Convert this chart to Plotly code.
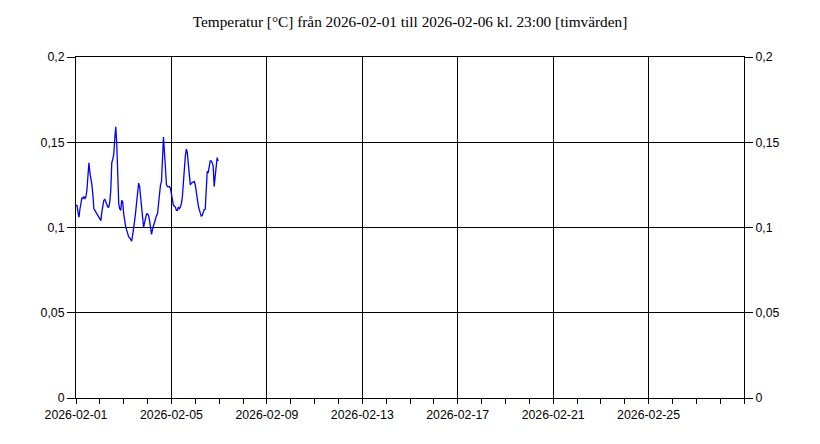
import plotly.graph_objects as go
import pandas as pd

start = "2026-02-01 00:00"
temps = [
    0.113, 0.113, 0.109, 0.106, 0.111, 0.116, 0.1175, 0.117, 0.118, 0.117,
    0.118, 0.122, 0.131, 0.138, 0.132, 0.129, 0.125, 0.119, 0.111, 0.110,
    0.109, 0.108, 0.107, 0.106, 0.105, 0.104, 0.109, 0.113, 0.116, 0.1165,
    0.115, 0.113, 0.112, 0.112, 0.115, 0.122, 0.138, 0.140, 0.143, 0.152,
    0.159, 0.149, 0.124, 0.114, 0.111, 0.110, 0.116, 0.115, 0.108, 0.103,
    0.1005, 0.0985, 0.096, 0.0945, 0.094, 0.093, 0.092, 0.0955, 0.099, 0.104,
    0.109, 0.114, 0.119, 0.126, 0.124, 0.118, 0.109, 0.103, 0.100, 0.103,
    0.105, 0.108, 0.108, 0.107, 0.104, 0.100, 0.096, 0.099, 0.101, 0.103,
    0.106, 0.107, 0.108, 0.114, 0.120, 0.125, 0.127, 0.140, 0.153, 0.144,
    0.131, 0.125, 0.124, 0.124, 0.124, 0.123, 0.120, 0.117, 0.113, 0.1125,
    0.112, 0.110, 0.110, 0.112, 0.111, 0.112, 0.114, 0.118, 0.127, 0.136,
    0.142, 0.146, 0.144, 0.137, 0.131, 0.125, 0.126, 0.1265, 0.127, 0.127,
    0.125, 0.120, 0.116, 0.113, 0.1105, 0.108, 0.1067, 0.107, 0.109, 0.1105,
    0.1107, 0.122, 0.133, 0.132, 0.136, 0.139, 0.139, 0.138, 0.136, 0.124,
    0.130, 0.136, 0.141, 0.139,
]
times = pd.date_range(start, periods=len(temps), freq="h")

title_text = "Temperatur [°C] från 2026-02-01 till 2026-02-06 kl. 23:00 [timvärden]"
x_range = ["2026-02-01 00:00", "2026-03-01 00:00"]
x_ticks = ["2026-02-01", "2026-02-05", "2026-02-09", "2026-02-13",
           "2026-02-17", "2026-02-21", "2026-02-25"]
y_ticks = [0, 0.05, 0.1, 0.15, 0.2]
y_range = [0, 0.2]

tick_font = dict(family="Liberation Sans, Arial, sans-serif", size=12.3, color="black")

fig = go.Figure()
fig.add_trace(go.Scatter(x=times, y=temps, mode="lines",
                         line=dict(color="#0000FF", width=1.3),
                         showlegend=False, yaxis="y"))
fig.add_trace(go.Scatter(x=times, y=temps, mode="lines",
                         line=dict(color="rgba(0,0,0,0)", width=0),
                         showlegend=False, hoverinfo="skip", yaxis="y2"))

fig.update_layout(
    width=820, height=444,
    margin=dict(l=76, r=76, t=57, b=46),
    paper_bgcolor="white", plot_bgcolor="white",
    separators=", ",
    title=dict(text=title_text, x=0.5, xanchor="center", y=1 - 22 / 444, yanchor="middle",
               font=dict(family="Liberation Serif, Times New Roman, serif", size=15.3, color="black")),
    xaxis=dict(
        type="date", range=x_range,
        tickmode="array", tickvals=x_ticks, ticktext=x_ticks,
        showgrid=True, gridcolor="black", gridwidth=1,
        showline=True, linecolor="black", linewidth=1, mirror=True,
        ticks="outside", ticklen=5, tickcolor="black", tickwidth=1,
        minor=dict(tickmode="linear", tick0="2026-02-01", dtick=86400000, ticks="outside",
                   ticklen=5, tickcolor="black", tickwidth=1, showgrid=False),
        tickfont=tick_font, zeroline=False, automargin=False,
    ),
    yaxis=dict(
        range=y_range, tickvals=y_ticks,
        showgrid=True, gridcolor="black", gridwidth=1,
        showline=True, linecolor="black", linewidth=1,
        ticks="outside", ticklen=8, tickcolor="black",
        tickfont=tick_font, zeroline=False, automargin=False,
    ),
    yaxis2=dict(
        range=y_range, tickvals=y_ticks, overlaying="y", side="right",
        showgrid=False, showline=True, linecolor="black", linewidth=1,
        ticks="outside", ticklen=8, tickcolor="black",
        tickfont=tick_font, zeroline=False, automargin=False,
    ),
)

fig.write_html("out.html", config={"displayModeBar": False},
               post_script="document.body.style.margin='0px';document.body.style.padding='0px';")
